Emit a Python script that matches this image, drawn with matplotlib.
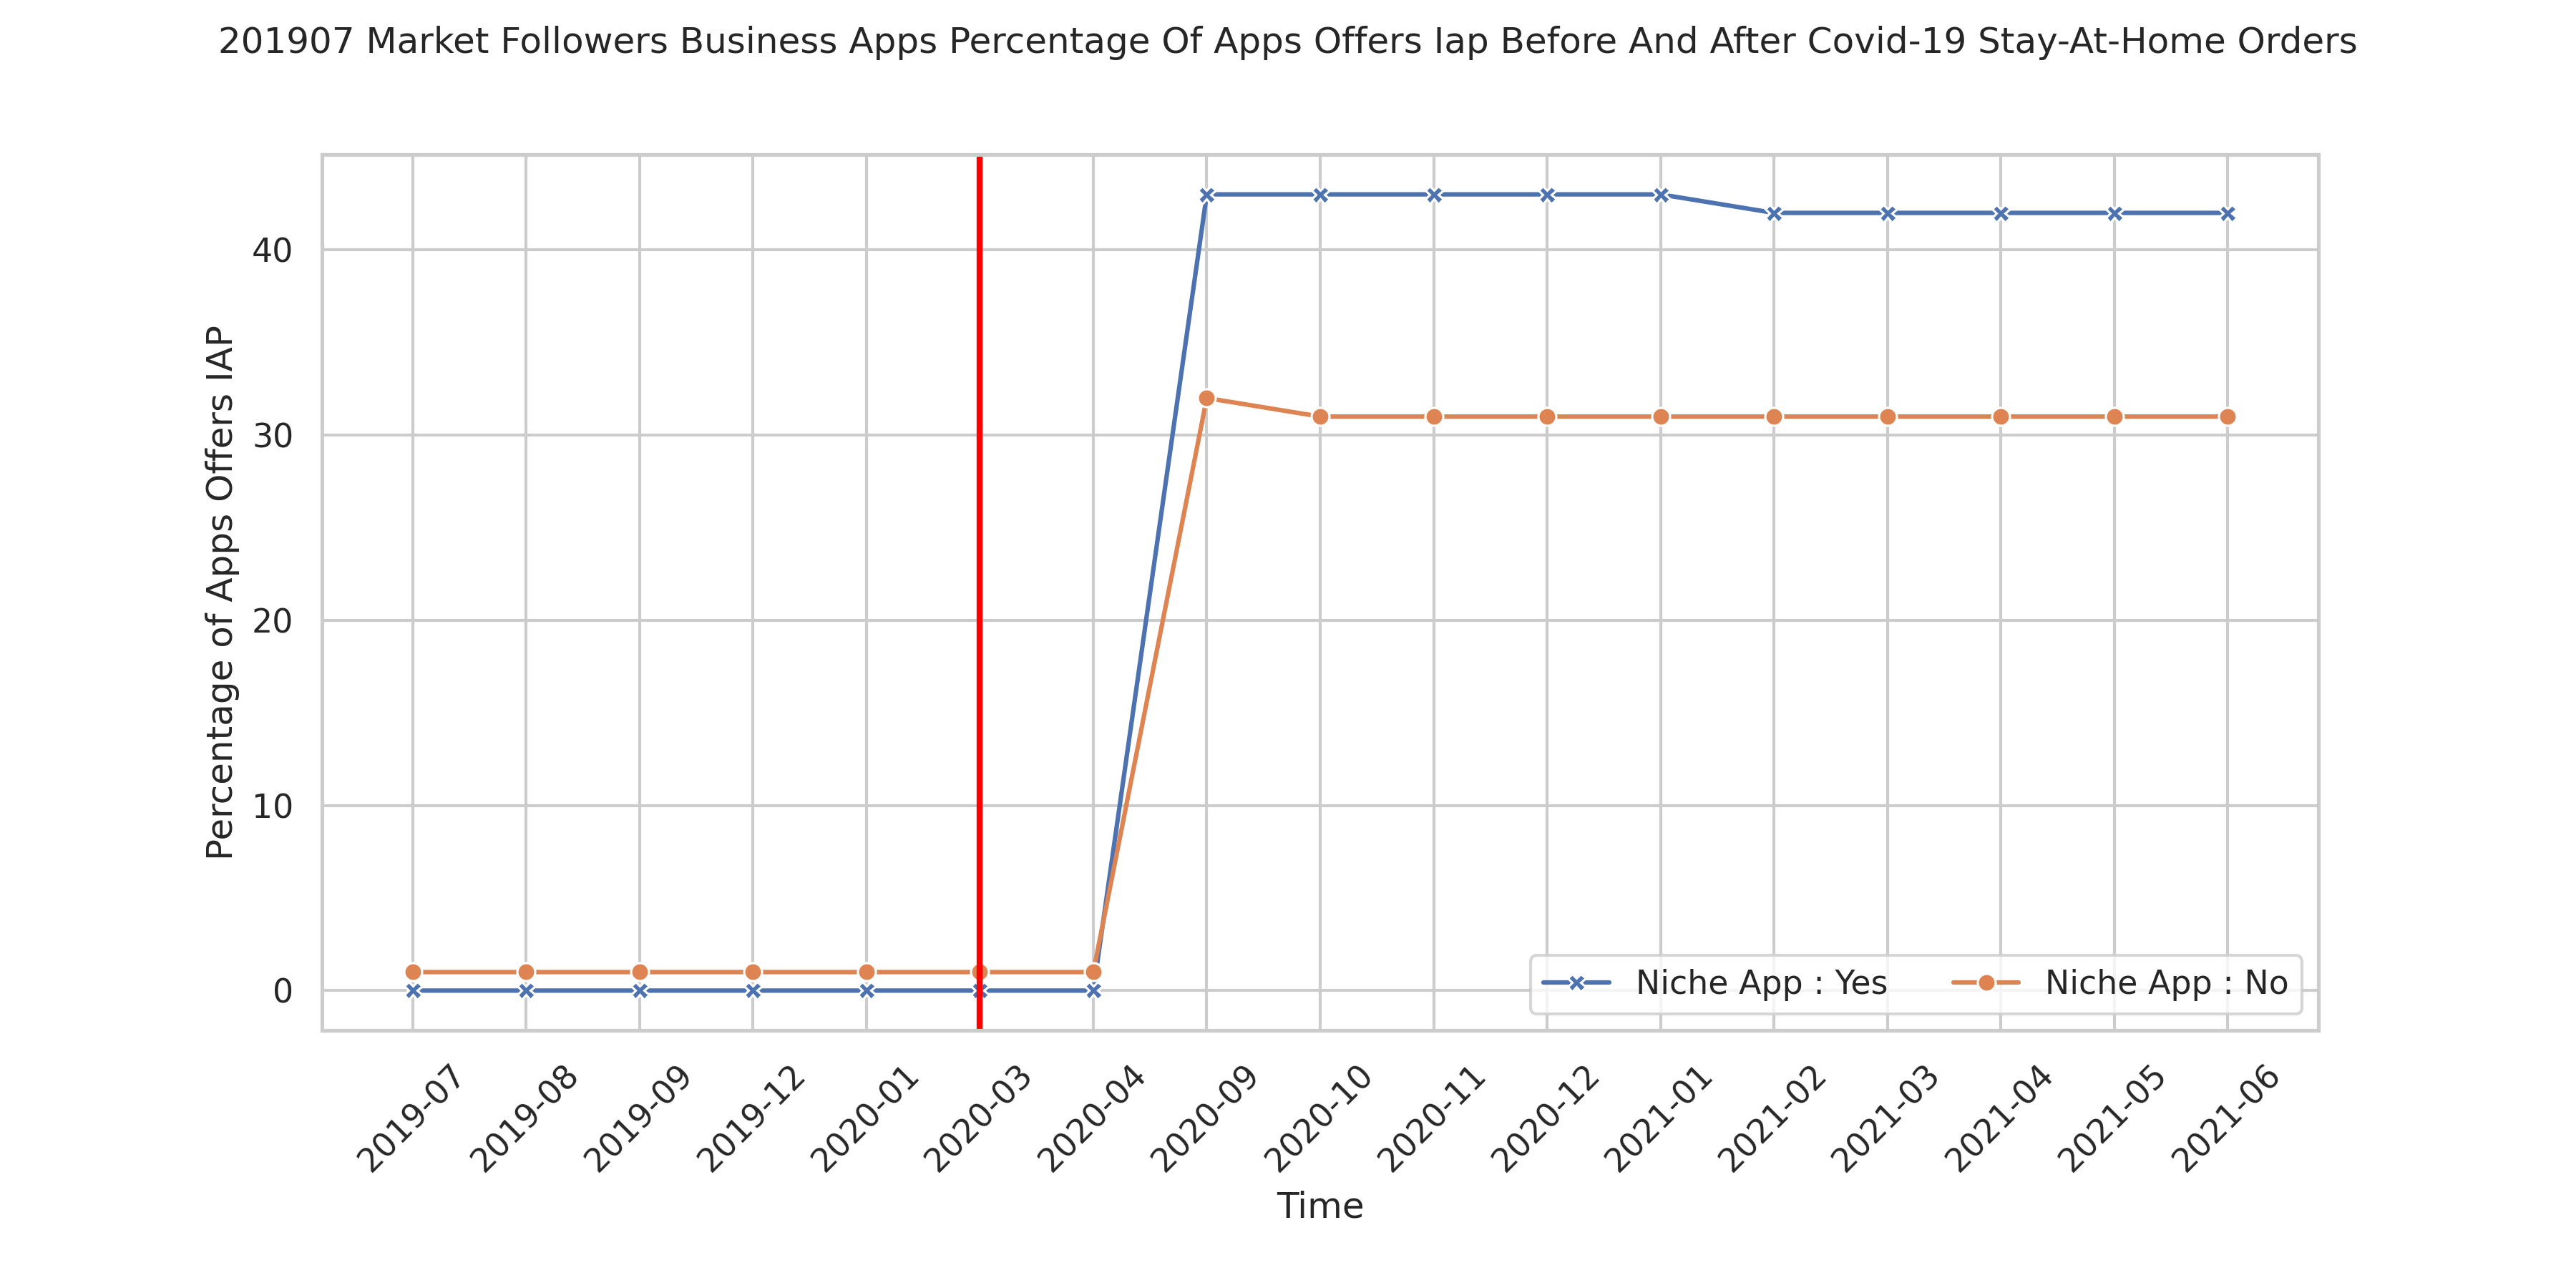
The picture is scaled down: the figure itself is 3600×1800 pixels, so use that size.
import matplotlib
matplotlib.use("Agg")
import matplotlib.pyplot as plt
import seaborn as sns

months = ["2019-07", "2019-08", "2019-09", "2019-12", "2020-01", "2020-03", "2020-04",
          "2020-09", "2020-10", "2020-11", "2020-12", "2021-01", "2021-02", "2021-03",
          "2021-04", "2021-05", "2021-06"]
niche_yes = [0, 0, 0, 0, 0, 0, 0, 43, 43, 43, 43, 43, 42, 42, 42, 42, 42]
niche_no = [1, 1, 1, 1, 1, 1, 1, 32, 31, 31, 31, 31, 31, 31, 31, 31, 31]
covid_month = "2020-03"

sns.set_theme(style="whitegrid")
palette = sns.color_palette("deep")

fig, ax = plt.subplots(figsize=(12, 6), dpi=300)
x = list(range(len(months)))
ax.plot(x, niche_yes, marker="X", color=palette[0], lw=1.5, ms=6,
        mec="white", mew=0.75, label="Niche App : Yes")
ax.plot(x, niche_no, marker="o", color=palette[1], lw=1.5, ms=6,
        mec="white", mew=0.75, label="Niche App : No")
ax.axvline(months.index(covid_month), color="red", lw=2)

ax.set_xticks(x)
ax.set_xticklabels(months, rotation=45)
ax.set_xlabel("Time")
ax.set_ylabel("Percentage of Apps Offers IAP")
ax.legend(loc="lower right", ncol=2)
fig.suptitle("201907 Market Followers Business Apps Percentage Of Apps Offers Iap "
             "Before And After Covid-19 Stay-At-Home Orders", fontsize=12)
fig.subplots_adjust(left=0.125, right=0.9, top=0.88, bottom=0.2)
fig.savefig("out.png")
